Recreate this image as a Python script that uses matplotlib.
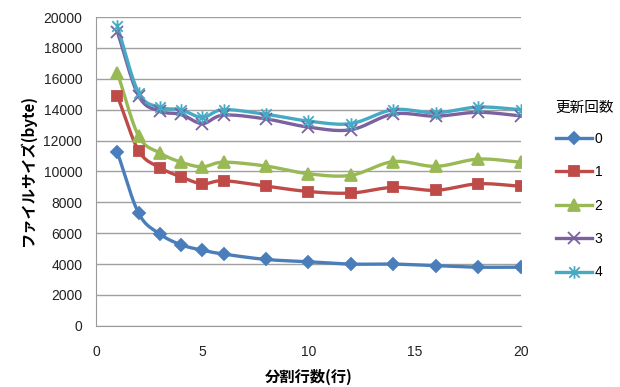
import matplotlib
matplotlib.use("Agg")
import matplotlib.pyplot as plt
import numpy as np
from matplotlib.path import Path

plt.rcParams["font.family"] = ["Liberation Sans", "Noto Sans CJK JP", "DejaVu Sans"]

# data
rows = [1, 2, 3, 4, 5, 6, 8, 10, 12, 14, 16, 18, 20]
size_0 = [11250, 7300, 5950, 5250, 4900, 4650, 4300, 4150, 4000, 4000, 3900, 3800, 3800]
size_1 = [14900, 11350, 10250, 9650, 9200, 9400, 9050, 8700, 8600, 8970, 8780, 9200, 9040]
size_2 = [16400, 12300, 11200, 10600, 10300, 10600, 10350, 9850, 9750, 10640, 10330, 10800, 10600]
size_3 = [19050, 14900, 13900, 13700, 13100, 13650, 13400, 12870, 12700, 13720, 13580, 13830, 13600]
size_4 = [19400, 15100, 14150, 14000, 13500, 14000, 13700, 13260, 13100, 14000, 13800, 14170, 14000]
series_labels = ["0", "1", "2", "3", "4"]
x_ticks = [0, 5, 10, 15, 20]
y_ticks = list(range(0, 20001, 2000))

colors = ["#4A7EBB", "#BE4B48", "#98B954", "#7D60A0", "#46AAC5"]

star = Path(
    [(-1, -1), (1, 1), (-1, 1), (1, -1), (0, -1.2), (0, 1.2)],
    [Path.MOVETO, Path.LINETO, Path.MOVETO, Path.LINETO, Path.MOVETO, Path.LINETO],
)
markers = ["D", "s", "^", "x", star]
marker_sizes = [6, 7.5, 8, 8, 9]


def smooth(xs, ys, n=12):
    """Catmull-Rom style curve through the points, like Excel's smoothed lines."""
    xs = np.asarray(xs, float)
    ys = np.asarray(ys, float)
    px = np.concatenate([[2 * xs[0] - xs[1]], xs, [2 * xs[-1] - xs[-2]]])
    py = np.concatenate([[2 * ys[0] - ys[1]], ys, [2 * ys[-1] - ys[-2]]])
    out_x, out_y = [], []
    t = np.linspace(0, 1, n, endpoint=False)
    for i in range(1, len(px) - 2):
        x0, x1, x2, x3 = px[i - 1:i + 3]
        y0, y1, y2, y3 = py[i - 1:i + 3]
        # bezier control points (tension 1/6)
        cx1, cy1 = x1 + (x2 - x0) / 6, y1 + (y2 - y0) / 6
        cx2, cy2 = x2 - (x3 - x1) / 6, y2 - (y3 - y1) / 6
        bx = (1 - t) ** 3 * x1 + 3 * (1 - t) ** 2 * t * cx1 + 3 * (1 - t) * t ** 2 * cx2 + t ** 3 * x2
        by = (1 - t) ** 3 * y1 + 3 * (1 - t) ** 2 * t * cy1 + 3 * (1 - t) * t ** 2 * cy2 + t ** 3 * y2
        out_x.extend(bx)
        out_y.extend(by)
    out_x.append(xs[-1])
    out_y.append(ys[-1])
    return out_x, out_y


fig = plt.figure(figsize=(6.2, 3.87), dpi=100)
ax = fig.add_axes([0.155, 0.158, 0.685, 0.798])

all_series = [size_0, size_1, size_2, size_3, size_4]
for ys, lab, c, m, ms in zip(all_series, series_labels, colors, markers, marker_sizes):
    sx, sy = smooth(rows, ys)
    ax.plot(sx, sy, color=c, lw=2.4, solid_capstyle="round", zorder=3)
    ax.plot(rows, ys, linestyle="none", marker=m, markersize=ms, color=c,
            markeredgecolor=c, markeredgewidth=1.3, zorder=4)
    ax.plot([], [], color=c, lw=2.4, marker=m, markersize=ms,
            markeredgecolor=c, markeredgewidth=1.3, label=lab)

ax.set_xlim(0, 20)
ax.set_ylim(0, 20000)
ax.set_xticks(x_ticks)
ax.set_yticks(y_ticks)
ax.yaxis.grid(True, color="#A0A0A0", lw=1)
ax.set_axisbelow(True)
for side in ["top", "right"]:
    ax.spines[side].set_visible(False)
for side in ["left", "bottom"]:
    ax.spines[side].set_color("#9A9A9A")
ax.tick_params(length=0, labelsize=10, colors="#222222")
ax.tick_params(axis="x", pad=14)
ax.tick_params(axis="y", pad=10)

ax.set_xlabel("分割行数(行)", fontsize=11, fontweight="bold",
              family=["Noto Sans CJK JP", "DejaVu Sans"], labelpad=7)
ax.set_ylabel("ファイルサイズ(byte)", fontsize=11, fontweight="bold",
              family=["Noto Sans CJK JP", "DejaVu Sans"], labelpad=5)

leg = ax.legend(loc="upper left", bbox_to_anchor=(0.885, 0.757),
                bbox_transform=fig.transFigure, frameon=False,
                title="更新回数", fontsize=10, handlelength=2.6,
                handletextpad=0.2, labelspacing=1.4, borderpad=0)
leg.get_title().set_family(["Noto Sans CJK JP", "DejaVu Sans"])
leg.get_title().set_fontsize(10.5)
leg._legend_box.align = "left"
leg._legend_box.sep = 12

fig.savefig("out.png", dpi=100)
